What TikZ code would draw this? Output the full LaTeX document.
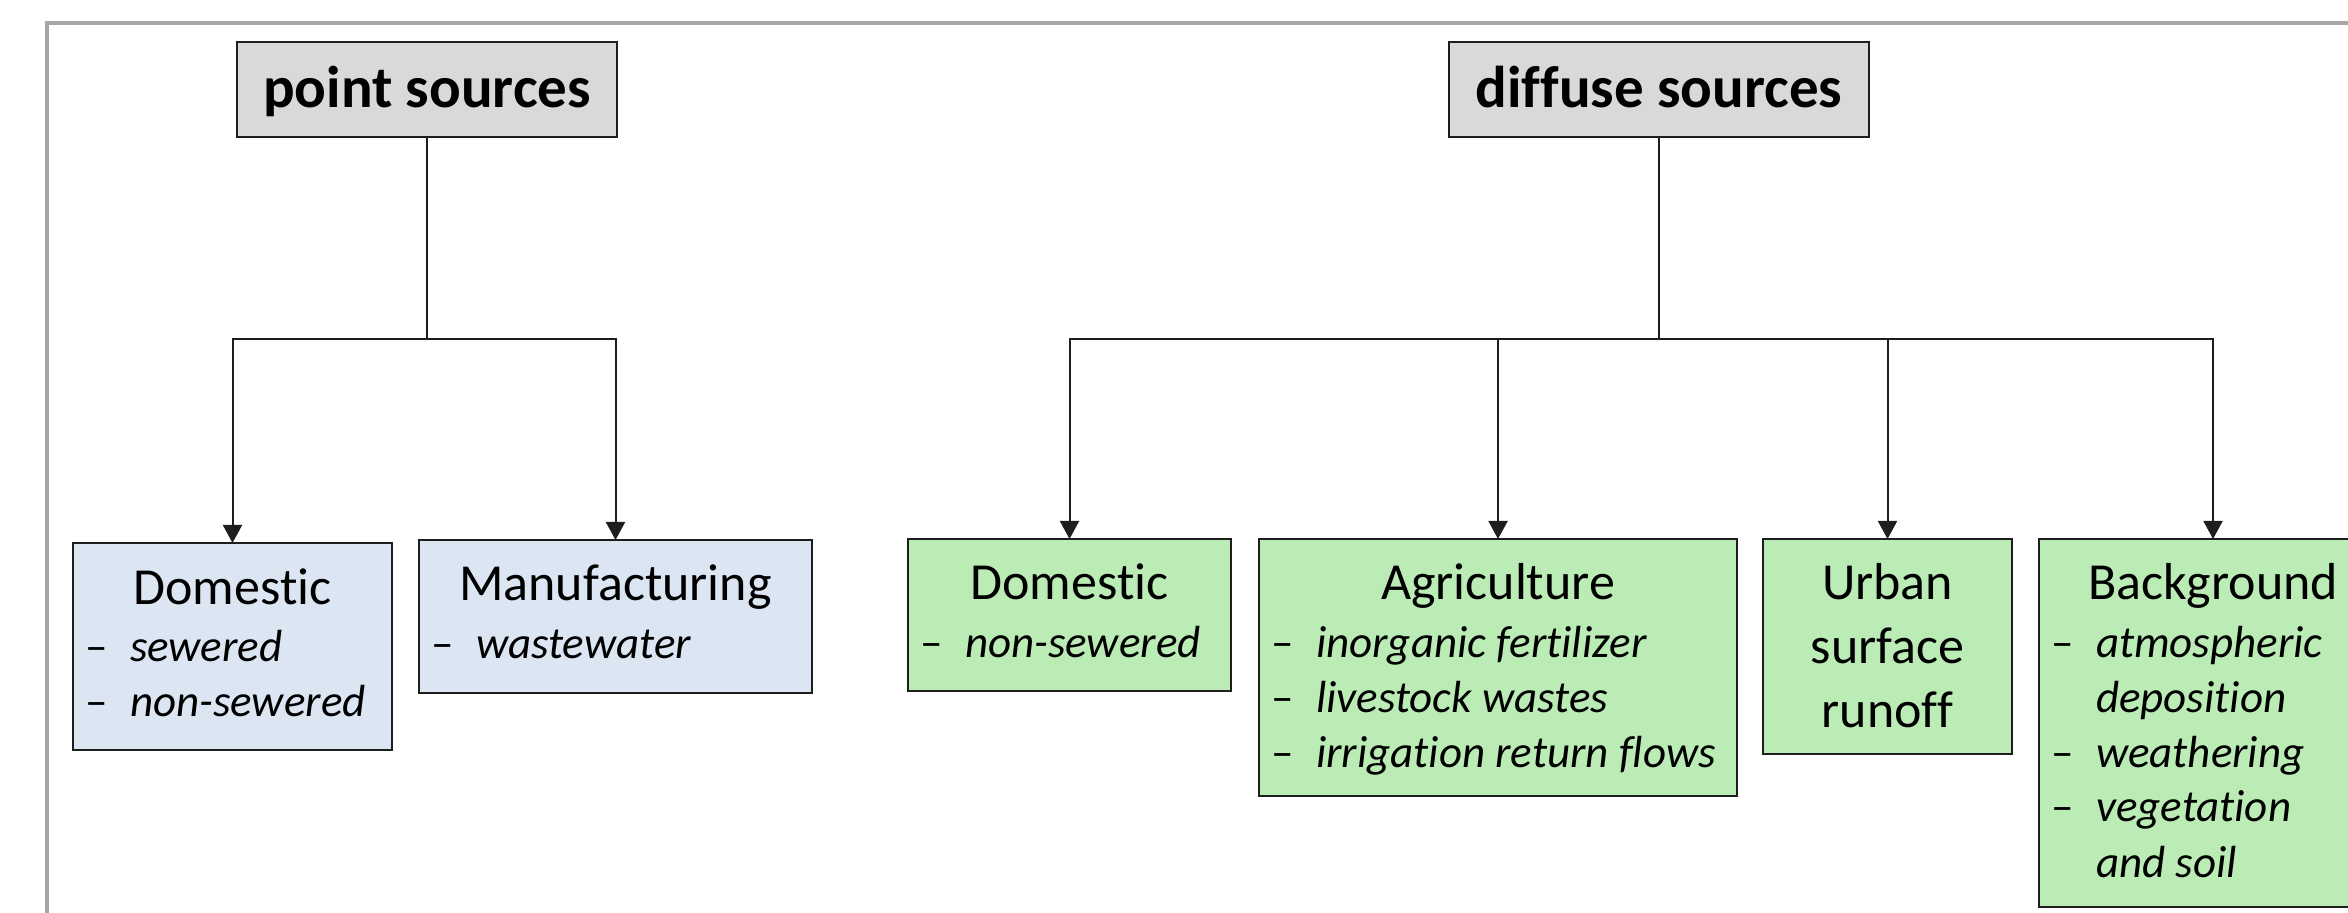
\documentclass[tikz,border=0pt]{standalone}
\usepackage{fontspec}
\setmainfont{Carlito}[Ligatures={NoCommon}]
\usetikzlibrary{arrows.meta}
\newdimen\px \px=0.5pt
\definecolor{titlegray}{RGB}{217,217,217}
\definecolor{ptblue}{RGB}{220,230,242}
\definecolor{dfgreen}{RGB}{187,236,182}
\definecolor{framegray}{RGB}{166,166,166}
\definecolor{linecol}{RGB}{30,30,30}
\newcommand\headfnt{\fontsize{26pt}{31.75pt}\selectfont}
\newcommand\itemfnt{\fontsize{22.5pt}{27.5pt}\selectfont\itshape}
\newcommand\titlefnt{\fontsize{29.5pt}{36pt}\selectfont\bfseries}
\newcommand\boxcontent[3]{\parbox[t][#2\px][t]{#1\px}{\setlength\parindent{0pt}\lineskiplimit=-\maxdimen\lineskip=0pt #3}}
\newcommand\titleline[1]{{\titlefnt\centering\rule{0pt}{66\px}#1\par}}
\newcommand\headline[1]{{\headfnt\centering\rule{0pt}{61\px}#1\par}}
\newcommand\headcont[1]{{\headfnt\centering #1\par}}
\newcommand\itm[1]{{\itemfnt\leftskip=12\px\hangindent=45\px\hangafter=1\noindent\makebox[45\px][l]{\upshape –}#1\par}}
\tikzset{
  x=0.5pt, y=-0.5pt,
  basebox/.style={draw=linecol, line width=0.8pt, inner sep=0pt, outer sep=0pt, anchor=north west},
  titlebox/.style={basebox, fill=titlegray},
  pointbox/.style={basebox, fill=ptblue},
  diffbox/.style={basebox, fill=dfgreen},
  conn/.style={draw=linecol, line width=1pt},
  arr/.style={-{Triangle[width=9.5pt,length=9pt]}}
}
\begin{document}
\begin{tikzpicture}
\useasboundingbox (0,0) rectangle (2348,913);
\clip (0,0) rectangle (2348,913);
\fill[white] (0,0) rectangle (2348,913);
\draw[framegray, line width=2pt] (47,23) rectangle (2420,990);

% top nodes
\node[titlebox] (ps) at (237,42) {\boxcontent{380}{95}{\titleline{point sources}}};
\node[titlebox] (ds) at (1449,42) {\boxcontent{420}{95}{\titleline{diffuse sources}}};

% point-source children
\node[pointbox] (dom1) at (73,543) {\boxcontent{319}{207}{\headline{Domestic}\vspace{2\px}\itm{sewered}\itm{non-sewered}}};
\node[pointbox] (manu) at (419,540) {\boxcontent{393}{153}{\headline{Manufacturing}\vspace{2\px}\itm{wastewater}}};

% diffuse-source children
\node[diffbox] (dom2) at (908,539) {\boxcontent{323}{152}{\headline{Domestic}\vspace{2\px}\itm{non-sewered}}};
\node[diffbox] (agri) at (1259,539) {\boxcontent{478}{257}{\headline{Agriculture}\vspace{2\px}\itm{inorganic fertilizer}\itm{livestock wastes}\itm{irrigation return flows}}};
\node[diffbox] (urban) at (1763,539) {\boxcontent{249}{215}{\headline{Urban}\headcont{surface}\headcont{runoff}}};
\node[diffbox] (bg) at (2039,539) {\boxcontent{348}{368}{\headline{Background}\vspace{2\px}\itm{atmospheric\\deposition}\itm{weathering}\itm{vegetation\\and soil}}};

% connectors
\coordinate (pj) at (ps.south |- 0,339);
\coordinate (dj) at (ds.south |- 0,339);
\draw[conn] (ps.south) -- (pj);
\draw[conn,arr] (pj) -| (dom1.north);
\draw[conn,arr] (pj) -| (manu.north);
\draw[conn] (ds.south) -- (dj);
\draw[conn,arr] (dj) -| (dom2.north);
\draw[conn,arr] (dj) -| (agri.north);
\draw[conn,arr] (dj) -| (urban.north);
\draw[conn,arr] (dj) -| (bg.north);
\end{tikzpicture}
\end{document}
